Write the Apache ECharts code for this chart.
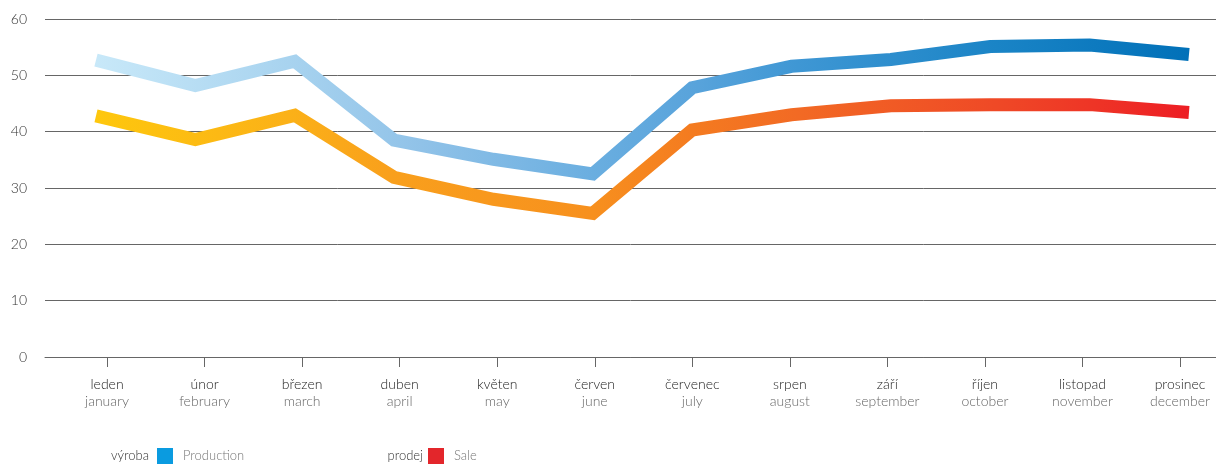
<!DOCTYPE html>
<html>
<head>
<meta charset="utf-8">
<script src="https://cdn.jsdelivr.net/npm/echarts@6/dist/echarts.min.js"></script>
<style>
  html, body { margin: 0; padding: 0; background: #fff; }
  #chart { width: 1216px; height: 466px; }
</style>
</head>
<body>
<div id="chart"></div>
<script>
// month labels (czech / english)
const monthsCz = ['leden', 'únor', 'březen', 'duben', 'květen', 'červen', 'červenec', 'srpen', 'září', 'říjen', 'listopad', 'prosinec'];
const monthsEn = ['january', 'february', 'march', 'april', 'may', 'june', 'july', 'august', 'september', 'october', 'november', 'december'];

// values
const production = [52.7, 48.2, 52.5, 38.5, 35.1, 32.5, 47.8, 51.6, 52.8, 55.1, 55.4, 53.7];
const sale = [42.8, 38.6, 42.9, 31.9, 28.0, 25.5, 40.3, 43.0, 44.6, 44.8, 44.8, 43.4];

const yTicks = [0, 10, 20, 30, 40, 50, 60];

const FONT = 'Lato, "DejaVu Sans", sans-serif';
const monthIdx = monthsCz.map((m, i) => i);

function pairs(arr) {
    return arr.map((v, i) => [i, v]);
}

function grad(stops) {
    return new echarts.graphic.LinearGradient(0, 0, 1, 0,
        stops.map(s => ({ offset: s[0], color: s[1] })));
}

let chart = echarts.init(document.getElementById('chart'));

let lineBase = {
    type: 'line',
    xAxisIndex: 1,
    symbol: 'none',
    silent: true
};

let option = {
    animation: false,
    grid: {
        left: 45,
        right: 0,
        top: 19,
        bottom: 109
    },
    xAxis: [
        {
            // month ticks and labels
            type: 'value',
            min: -0.636,
            max: 11.369,
            splitLine: { show: false },
            axisLine: { show: true, lineStyle: { color: '#666', width: 1 } },
            axisTick: {
                show: true,
                customValues: monthIdx,
                length: 10,
                lineStyle: { color: '#666' }
            },
            axisLabel: {
                customValues: monthIdx,
                margin: 19,
                formatter: function (v) {
                    let i = Math.round(v);
                    return '{a|' + monthsCz[i] + '}\n{b|' + monthsEn[i] + '}';
                },
                rich: {
                    a: { fontFamily: FONT, fontWeight: 300, fontSize: 14, color: '#222', lineHeight: 17 },
                    b: { fontFamily: FONT, fontWeight: 300, fontSize: 14, color: '#666', lineHeight: 17 }
                }
            }
        },
        {
            // the lines sit on a slightly wider spacing than the ticks
            type: 'value',
            min: -0.513,
            max: 11.272,
            show: false
        }
    ],
    yAxis: {
        type: 'value',
        min: yTicks[0],
        max: yTicks[yTicks.length - 1],
        interval: 10,
        axisLine: { show: false },
        axisTick: { show: false },
        axisLabel: {
            margin: 18,
            fontFamily: FONT,
            fontWeight: 300,
            fontSize: 14,
            color: '#333'
        },
        splitLine: { lineStyle: { color: '#666', width: 1 } }
    },
    legend: [
        {
            data: [{ name: 'Production', itemStyle: { color: '#0a9be0' } }],
            left: 157,
            top: 448,
            padding: 0,
            icon: 'rect',
            itemWidth: 16,
            itemHeight: 16,
            selectedMode: false,
            textStyle: { fontFamily: FONT, fontWeight: 300, fontSize: 13, color: '#777', padding: [0, 0, 0, 5] }
        },
        {
            data: [{ name: 'Sale', itemStyle: { color: '#e3262b' } }],
            left: 428,
            top: 448,
            padding: 0,
            icon: 'rect',
            itemWidth: 16,
            itemHeight: 16,
            selectedMode: false,
            textStyle: { fontFamily: FONT, fontWeight: 300, fontSize: 13, color: '#777', padding: [0, 0, 0, 5] }
        }
    ],
    graphic: [
        {
            type: 'text',
            right: 1216 - 149,
            top: 449,
            style: { text: 'výroba', fontFamily: FONT, fontWeight: 300, fontSize: 13, fill: '#333' }
        },
        {
            type: 'text',
            right: 1216 - 423,
            top: 449,
            style: { text: 'prodej', fontFamily: FONT, fontWeight: 300, fontSize: 13, fill: '#333' }
        }
    ],
    series: [
        Object.assign({}, lineBase, {
            name: 'Production',
            data: pairs(production),
            lineStyle: {
                width: 13,
                cap: 'butt',
                join: 'miter',
                color: grad([
                    [0, '#c9e9f9'], [0.18, '#a8d3ef'], [0.3, '#90c2e8'],
                    [0.455, '#6aaee0'], [0.55, '#58a3db'], [0.64, '#3f97d4'],
                    [0.82, '#1a84c6'], [1, '#0070b8']
                ])
            }
        }),
        Object.assign({}, lineBase, {
            name: 'Sale',
            data: pairs(sale),
            lineStyle: {
                width: 13,
                cap: 'butt',
                join: 'miter',
                color: grad([
                    [0, '#fec80d'], [0.18, '#fbb118'], [0.27, '#f9a01c'],
                    [0.455, '#f7901e'], [0.545, '#f47b20'], [0.64, '#f26a24'],
                    [0.82, '#ef4926'], [0.91, '#ee3426'], [1, '#ed1c24']
                ])
            }
        })
    ]
};

chart.setOption(option);
</script>
</body>
</html>
